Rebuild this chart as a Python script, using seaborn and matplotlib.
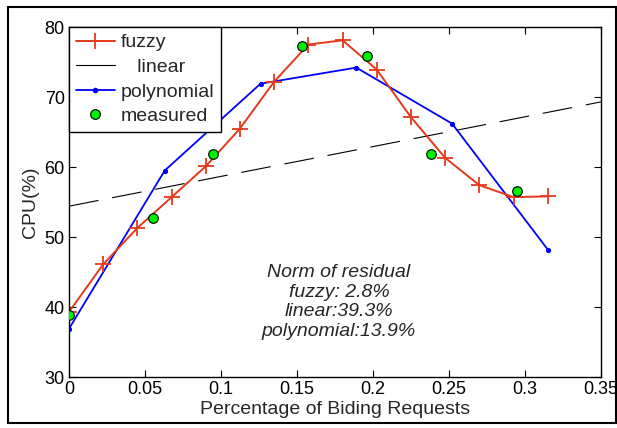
import matplotlib
matplotlib.use("Agg")
import matplotlib.pyplot as plt
from matplotlib.lines import Line2D
from matplotlib.patches import Rectangle
import seaborn as sns
import numpy as np

# ---- data ----
fuzzy_x = [0, 0.0225, 0.045, 0.0675, 0.09, 0.1125, 0.135, 0.1575, 0.18, 0.2025, 0.225, 0.2475, 0.27, 0.2925, 0.315]
fuzzy_y = [39.3, 46.1, 51.3, 55.7, 60.1, 65.5, 72.2, 77.5, 78.1, 73.9, 67.1, 61.3, 57.4, 55.7, 55.8]

linear_x = [0.0, 0.35]
linear_y = [54.4, 69.3]

poly_x = [0, 0.063, 0.126, 0.189, 0.252, 0.315]
poly_y = [36.9, 59.5, 71.9, 74.2, 66.2, 48.2]

meas_x = [0, 0.0555, 0.095, 0.1535, 0.196, 0.238, 0.2947]
meas_y = [38.8, 52.7, 61.9, 77.3, 75.9, 61.9, 56.6]

xticks = [0, 0.05, 0.1, 0.15, 0.2, 0.25, 0.3, 0.35]
xtick_labels = ["0", "0.05", "0.1", "0.15", "0.2", "0.25", "0.3", "0.35"]
yticks = [30, 40, 50, 60, 70, 80]

annot_lines = ["Norm of residual", "fuzzy: 2.8%", "linear:39.3%", "polynomial:13.9%"]

sns.set_style("ticks")
plt.rcParams["font.family"] = ["Liberation Sans", "DejaVu Sans"]

RED = "#e23a1a"
BLUE = "#0000ff"
GREEN = "#00ee00"

fig = plt.figure(figsize=(6.17, 4.28), dpi=100)
ax = fig.add_axes([69 / 617, 1 - 377 / 428, (601 - 69) / 617, (377 - 27) / 428])

sns.lineplot(x=linear_x, y=linear_y, ax=ax, color="black", linewidth=0.8,
             linestyle=(0, (27, 12.5)), legend=False)
sns.lineplot(x=poly_x, y=poly_y, ax=ax, color=BLUE, linewidth=1.3, marker="o",
             markersize=3, markeredgecolor=BLUE, legend=False)
sns.lineplot(x=fuzzy_x, y=fuzzy_y, ax=ax, color=RED, linewidth=1.4, marker="+",
             markersize=11, markeredgewidth=1.3, markeredgecolor=RED, legend=False)
sns.scatterplot(x=meas_x, y=meas_y, ax=ax, color=GREEN, edgecolor="black",
                linewidth=0.8, s=48, zorder=5, legend=False)

ax.set_xlim(0, 0.35)
ax.set_ylim(30, 80)
ax.set_xticks(xticks)
ax.set_xticklabels(xtick_labels)
ax.set_yticks(yticks)
ax.tick_params(direction="in", top=True, right=True, labelsize=13, length=5,
               width=0.8, colors="black", pad=3)
for s in ax.spines.values():
    s.set_visible(True)
    s.set_linewidth(1.0)
    s.set_color("black")

ax.set_xlabel("Percentage of Biding Requests", fontsize=14, labelpad=2)
ax.set_ylabel("CPU(%)", fontsize=14, labelpad=4)

ax.text(0.1776, 40.7, "\n".join(annot_lines), ha="center", va="center",
        fontsize=14, style="italic", linespacing=1.2)

handles = [
    Line2D([], [], color=RED, lw=1.4, marker="+", markersize=11, markeredgewidth=1.3),
    Line2D([], [], color="black", lw=0.8),
    Line2D([], [], color=BLUE, lw=1.3, marker="o", markersize=3),
    Line2D([], [], color=GREEN, lw=0, marker="o", markersize=7,
           markeredgecolor="black", markeredgewidth=0.8),
]
labels = ["fuzzy", "   linear", "polynomial", "measured"]
leg = ax.legend(handles, labels, loc="upper left", borderaxespad=0, fontsize=14,
                handlelength=2.0, handletextpad=0.3, labelspacing=0.36,
                borderpad=0.35, fancybox=False, framealpha=1, edgecolor="black")
leg.get_frame().set_linewidth(1.0)

fig.patches.append(Rectangle((8 / 617, 5 / 428), (616 - 8) / 617, (421 - 5) / 428,
                             transform=fig.transFigure, fill=False,
                             edgecolor="black", linewidth=1.5))

fig.savefig("out.png", dpi=100, facecolor="white")
